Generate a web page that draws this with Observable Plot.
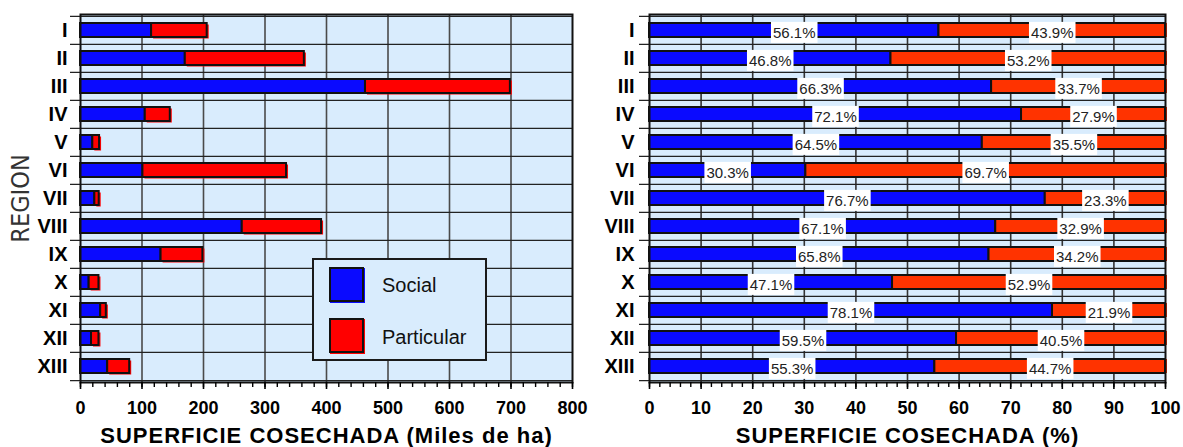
<!DOCTYPE html>
<html><head><meta charset="utf-8">
<script src="https://cdn.jsdelivr.net/npm/d3@7"></script>
<script src="https://cdn.jsdelivr.net/npm/@observablehq/plot@0.6"></script>
<style>
body{margin:0;background:#fff;}
#wrap{position:relative;width:1183px;height:447px;overflow:hidden;font-family:"Liberation Sans",Arial,sans-serif;}
#left,#right{position:absolute;top:0;}
#left{left:0}
#right{left:590px}
#legend{position:absolute;left:312px;top:258px;width:171px;height:99px;border:2px solid #1a1a1a;background:#d9ecfd;}
.sw{position:absolute;left:15px;width:31px;height:31px;border:2px solid #111;}
.lt{position:absolute;left:68px;font-size:20px;line-height:20px;color:#111;white-space:nowrap;}
</style></head><body>
<div id="wrap">
  <div id="left"></div>
  <div id="right"></div>
  <div id="legend"></div>
</div>
<script>
// ---- data ----
const regions = ["I","II","III","IV","V","VI","VII","VIII","IX","X","XI","XII","XIII"];
const social = [115.6, 170.4, 463.4, 105.3, 20.0, 101.5, 23.3, 263.0, 131.0, 14.1, 32.8, 17.9, 44.2];
const particular = [90.4, 193.6, 235.6, 40.7, 11.0, 233.5, 7.1, 129.0, 68.0, 15.9, 9.2, 12.1, 35.8];
const socialPct = [56.1, 46.8, 66.3, 72.1, 64.5, 30.3, 76.7, 67.1, 65.8, 47.1, 78.1, 59.5, 55.3];
const particularPct = [43.9, 53.2, 33.7, 27.9, 35.5, 69.7, 23.3, 32.9, 34.2, 52.9, 21.9, 40.5, 44.7];
const leftTicks = [0, 100, 200, 300, 400, 500, 600, 700, 800];
const rightTicks = [0, 10, 20, 30, 40, 50, 60, 70, 80, 90, 100];
const seriesNames = ["Social", "Particular"];
const leftTitle = "SUPERFICIE COSECHADA (Miles de ha)";
const rightTitle = "SUPERFICIE COSECHADA (%)";
const yTitle = "REGION";

// ---- styling ----
const BG = "#d9ecfd";
const BLUE = "#0a0aff";
const RED = "#ff0000";
const RED2 = "#ff3300";
const FONT = "Liberation Sans, Arial, sans-serif";
const H = 447, MT = 14, MB = 65;
const step = (H - MT - MB) / regions.length;

const rows = regions.map((r, i) => ({
  region: r,
  social: social[i],
  particular: particular[i],
  total: social[i] + particular[i],
  sp: socialPct[i],
  pp: particularPct[i]
}));

function rowRules() {
  return [
    Plot.ruleY(regions, {y: d => d, dy: -step / 2, stroke: "#222", strokeWidth: 1.2, insetLeft: -10}),
    Plot.ruleY(regions.slice(-1), {y: d => d, dy: step / 2, stroke: "#222", strokeWidth: 1.2, insetLeft: -10})
  ];
}

const left = Plot.plot({
  width: 590, height: H, marginTop: MT, marginBottom: MB, marginLeft: 80, marginRight: 18,
  style: {fontFamily: FONT, background: "transparent", overflow: "visible", color: "#000"},
  x: {domain: [leftTicks[0], leftTicks[leftTicks.length - 1]]},
  y: {domain: regions, paddingInner: 0.5, paddingOuter: 0.25},
  marks: [
    Plot.frame({fill: BG}),
    Plot.ruleX(leftTicks.slice(1, -1), {stroke: "#4a4a4a", strokeWidth: 1.6}),
    ...rowRules(),
    Plot.barX(rows, {y: "region", x1: "social", x2: "total", fill: RED, dx: 2, dy: 1.5}),
    Plot.barX(rows, {y: "region", x1: 0, x2: "social", fill: BLUE, stroke: "#111", strokeWidth: 2}),
    Plot.barX(rows, {y: "region", x1: "social", x2: "total", fill: RED, stroke: "#111", strokeWidth: 2}),
    Plot.frame({stroke: "#111", strokeWidth: 2}),
    Plot.axisX({ticks: d3.range(0, 801, 20), tickSize: 5, text: null, strokeWidth: 1.4, label: null}),
    Plot.axisX({ticks: leftTicks, tickSize: 7, tickPadding: 12, fontSize: 18, fontWeight: "bold", label: null, strokeWidth: 1.6, tickFormat: d => String(d)}),
    Plot.axisY({tickSize: 0, tickPadding: 13, fontSize: 20, fontWeight: "bold", label: null}),
    Plot.text([leftTitle], {frameAnchor: "bottom", lineAnchor: "middle", dy: 53, fontSize: 22, fontWeight: "bold", fill: "#000"}),
    Plot.text([yTitle], {frameAnchor: "left", textAnchor: "middle", lineAnchor: "middle", dx: -60, rotate: -90, fontSize: 25, fontFamily: "DejaVu Sans Condensed, DejaVu Sans", fill: "#333"})
  ]
});

const right = Plot.plot({
  width: 593, height: H, marginTop: MT, marginBottom: MB, marginLeft: 59, marginRight: 18,
  style: {fontFamily: FONT, background: "transparent", overflow: "visible", color: "#000"},
  x: {domain: [rightTicks[0], rightTicks[rightTicks.length - 1]]},
  y: {domain: regions, paddingInner: 0.5, paddingOuter: 0.25},
  marks: [
    Plot.frame({fill: BG}),
    Plot.ruleX(rightTicks.slice(1, -1), {stroke: "#333", strokeWidth: 1.6}),
    ...rowRules(),
    Plot.barX(rows, {y: "region", x1: "sp", x2: d => d.sp + d.pp, fill: RED2, dx: 2}),
    Plot.barX(rows, {y: "region", x1: 0, x2: "sp", fill: BLUE, stroke: "#111", strokeWidth: 2}),
    Plot.barX(rows, {y: "region", x1: "sp", x2: d => d.sp + d.pp, fill: RED2, stroke: "#111", strokeWidth: 2}),
    Plot.frame({stroke: "#111", strokeWidth: 2}),
    Plot.axisX({ticks: d3.range(0, 101, 2), tickSize: 5, text: null, strokeWidth: 1.4, label: null}),
    Plot.axisX({ticks: rightTicks, tickSize: 7, tickPadding: 12, fontSize: 18, fontWeight: "bold", label: null, strokeWidth: 1.6, tickFormat: d => String(d)}),
    Plot.axisY({tickSize: 0, tickPadding: 15, fontSize: 20, fontWeight: "bold", label: null}),
    Plot.text(rows, {y: "region", x: d => d.sp / 2, text: d => d.sp.toFixed(1) + "%", fontSize: 15, fill: "#222", dy: 2.6}),
    Plot.text(rows, {y: "region", x: d => d.sp + d.pp / 2, text: d => d.pp.toFixed(1) + "%", fontSize: 15, fill: "#222", dy: 2.6}),
    Plot.text([rightTitle], {frameAnchor: "bottom", lineAnchor: "middle", dy: 53, fontSize: 22, fontWeight: "bold", fill: "#000"})
  ]
});

document.getElementById("left").append(left);
document.getElementById("right").append(right);

// letter spacing on axis titles
for (const svg of [left, right]) {
  svg.querySelectorAll("text").forEach(t => {
    if (t.textContent === leftTitle || t.textContent === rightTitle) t.setAttribute("letter-spacing", "1");
  });
}

// white boxes behind percentage labels
right.querySelectorAll("text").forEach(t => {
  const s = t.textContent;
  if (/^\d+\.\d%$/.test(s)) {
    const b = t.getBBox();
    const r = document.createElementNS("http://www.w3.org/2000/svg", "rect");
    r.setAttribute("x", b.x - 2);
    r.setAttribute("y", b.y - 2);
    r.setAttribute("width", b.width + 4);
    r.setAttribute("height", b.height + 4);
    r.setAttribute("fill", "#fff");
    const tr = t.getAttribute("transform");
    if (tr) r.setAttribute("transform", tr);
    t.parentNode.insertBefore(r, t);
  }
});

// legend
const legend = document.getElementById("legend");
const colors = [BLUE, RED];
seriesNames.forEach((name, i) => {
  const sw = document.createElement("div");
  sw.className = "sw";
  sw.style.top = (7 + i * 51) + "px";
  sw.style.background = colors[i];
  sw.style.boxShadow = `1px 1px 0 ${colors[i]}`;
  legend.append(sw);
  const lt = document.createElement("div");
  lt.className = "lt";
  lt.style.top = (15 + i * 52) + "px";
  lt.textContent = name;
  legend.append(lt);
});
</script>
</body></html>
